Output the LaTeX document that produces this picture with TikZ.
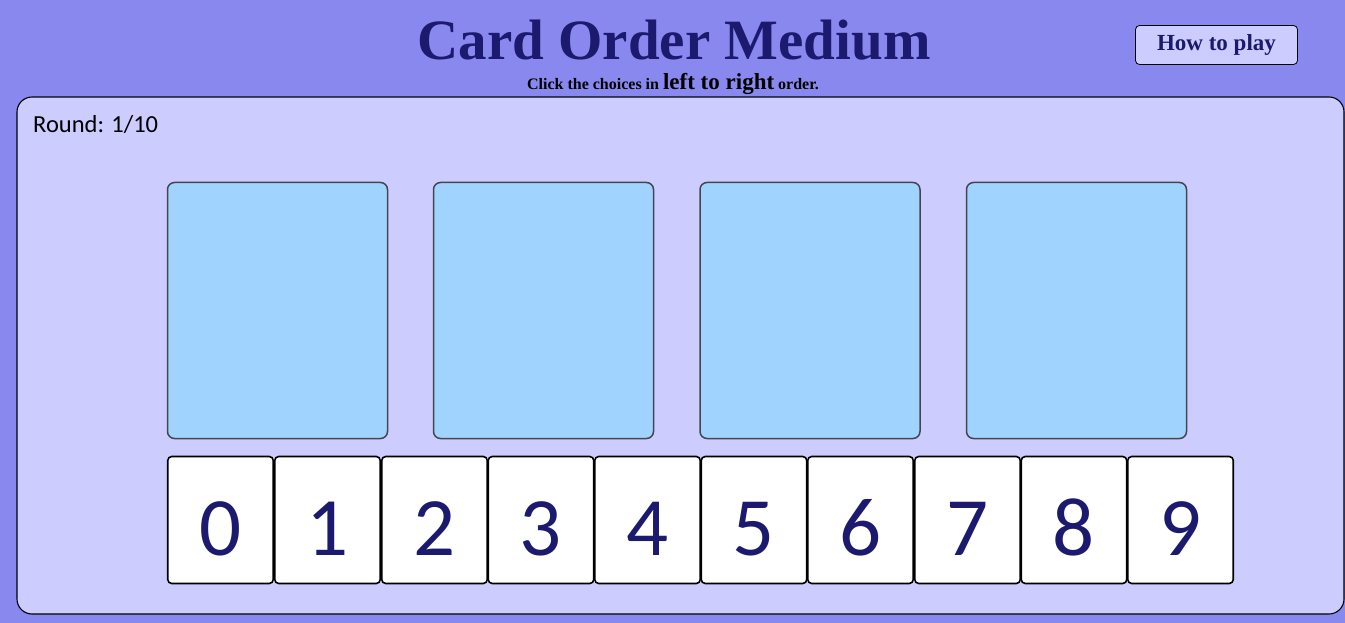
\documentclass[tikz,border=0pt]{standalone}
\usepackage{fontspec}
\setmainfont{Liberation Serif}
\newfontfamily\calibri{Carlito}
\definecolor{bgblue}{HTML}{8888EE}
\definecolor{panelblue}{HTML}{CCCCFF}
\definecolor{cardblue}{HTML}{A0D4FF}
\definecolor{inkblue}{HTML}{1C1A6E}
\definecolor{cardedge}{HTML}{45454F}
\tikzset{
	card/.style={draw=cardedge, line width=1.5pt, fill=cardblue, rounded corners=7pt,
		minimum width=220pt, minimum height=256pt, inner sep=0pt},
	digit/.style={draw=black, line width=1.6pt, fill=white, rounded corners=4pt,
		minimum width=105.5pt, minimum height=127pt, inner sep=0pt,
		text height=70pt, text depth=0pt, text=inkblue,
		font=\calibri\fontsize{83}{83}\selectfont},
}
\begin{document}
\begin{tikzpicture}[x=1pt, y=-1pt]
		\fill[bgblue](0, 0) rectangle (1345, 623);
		\useasboundingbox(0, 0) rectangle (1345, 623);

		\node[anchor=base, text=inkblue, font=\bfseries\fontsize{57}{57}\selectfont] (title) at(674, 60){Card Order Medium};
		\node[anchor=base, font=\bfseries\fontsize{16}{16}\selectfont] (hint) at(673, 90){Click the choices in {\fontsize{23}{23}\selectfont left to right} order.};

		\node[draw=black, line width=0.8pt, fill=panelblue, rounded corners=4pt, minimum width=162pt, minimum height=39pt,
			text=inkblue, font=\bfseries\fontsize{23}{23}\selectfont] (howto) at(1216.5, 45){How to play};

		\draw[line width=1.1pt, fill=panelblue, rounded corners=15pt](17, 97) rectangle (1344, 614);
		\node[anchor=base west, inner sep=0pt, font=\calibri\fontsize{24.5}{24.5}\selectfont] (round) at(33, 133){Round: 1/10};

		\node[card] (card1) at(277.5, 310.5){};
		\node[card] (card2) at(543.5, 310.5){};
		\node[card] (card3) at(810, 310.5){};
		\node[card] (card4) at(1076.5, 310.5){};

		\node[digit] (d0) at(220.5, 520){0};
		\node[digit] (d1) at(327.5, 520){1};
		\node[digit] (d2) at(434.5, 520){2};
		\node[digit] (d3) at(541, 520){3};
		\node[digit] (d4) at(647.5, 520){4};
		\node[digit] (d5) at(754, 520){5};
		\node[digit] (d6) at(860.5, 520){6};
		\node[digit] (d7) at(967.5, 520){7};
		\node[digit] (d8) at(1074, 520){8};
		\node[digit] (d9) at(1180.5, 520){9};
	\end{tikzpicture}
\end{document}
